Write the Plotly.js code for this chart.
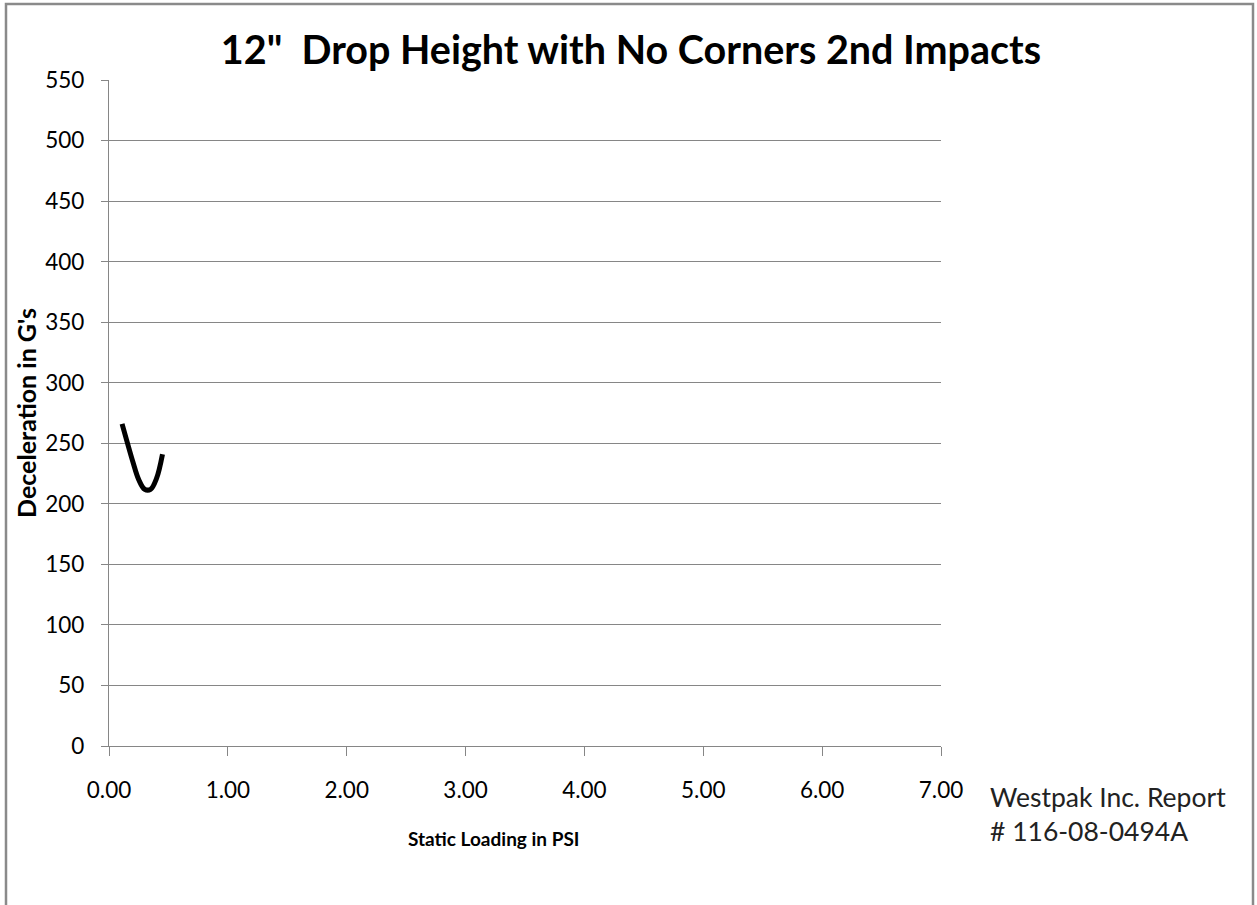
<!DOCTYPE html>
<html>
<head>
<meta charset="utf-8">
<script src="https://cdn.plot.ly/plotly-3.0.1.min.js"></script>
<style>
html,body{margin:0;padding:0;background:#fff;}
#chart{width:1257px;height:905px;}
</style>
</head>
<body>
<div id="chart"></div>
<script>
// Data
const staticLoading = [0.11, 0.15, 0.20, 0.25, 0.30, 0.35, 0.40, 0.45];
const deceleration  = [266, 252, 235, 220, 212, 212, 221, 241];
const xTickVals = [0, 1, 2, 3, 4, 5, 6, 7];
const xTickText = ["0.00", "1.00", "2.00", "3.00", "4.00", "5.00", "6.00", "7.00"];
const yTickVals = [0, 50, 100, 150, 200, 250, 300, 350, 400, 450, 500, 550];
const chartTitle = '12"  Drop Height with No Corners 2nd Impacts';
const xTitle = "Static Loading in PSI";
const yTitle = "Deceleration in G's";
const noteText = "Westpak Inc. Report<br># 116-08-0494A";

const FONT = "Lato, 'Open Sans', sans-serif";

const trace = {
  x: staticLoading,
  y: deceleration,
  type: 'scatter',
  mode: 'lines',
  line: {color: '#000000', width: 5, shape: 'spline', smoothing: 1},
  hoverinfo: 'x+y',
  showlegend: false
};

const layout = {
  width: 1257,
  height: 905,
  paper_bgcolor: '#ffffff',
  plot_bgcolor: '#ffffff',
  margin: {l: 109, r: 316, t: 80, b: 159},
  font: {family: FONT, color: '#000000'},
  title: {
    text: chartTitle,
    font: {family: FONT, size: 39.5, color: '#000000', weight: 'bold'},
    x: 0.502, xref: 'container', xanchor: 'center',
    y: 0.945, yref: 'container', yanchor: 'middle'
  },
  xaxis: {
    range: [0, 7],
    tickvals: xTickVals,
    ticktext: xTickText,
    showgrid: false,
    zeroline: false,
    showline: true,
    linecolor: '#868686',
    linewidth: 1.3,
    ticks: 'outside',
    ticklen: 9,
    tickcolor: '#868686',
    tickwidth: 1.3,
    ticklabelstandoff: 15,
    tickfont: {family: FONT, size: 22.5, color: '#000000'},
    fixedrange: true
  },
  yaxis: {
    range: [0, 550],
    tickvals: yTickVals,
    showgrid: true,
    gridcolor: '#868686',
    gridwidth: 1.1,
    zeroline: false,
    showline: true,
    linecolor: '#868686',
    linewidth: 1.3,
    ticks: 'outside',
    ticklen: 7,
    tickcolor: '#868686',
    tickwidth: 1.3,
    ticklabelstandoff: 12,
    tickfont: {family: FONT, size: 22.5, color: '#000000'},
    title: {text: yTitle, font: {family: FONT, size: 25, color: '#000000', weight: 'bold'}, standoff: 1},
    fixedrange: true
  },
  annotations: [{
    text: xTitle,
    xref: 'paper', yref: 'paper',
    x: 0.357, y: -0.139,
    xanchor: 'left', yanchor: 'middle',
    showarrow: false,
    font: {family: FONT, size: 19, color: '#000000', weight: 'bold'}
  }, {
    text: noteText,
    xref: 'paper', yref: 'paper',
    x: 1.0565, y: -0.05,
    xanchor: 'left', yanchor: 'top',
    align: 'left',
    showarrow: false,
    font: {family: FONT, size: 26.5, color: '#222222'}
  }],
  shapes: [{
    type: 'rect', xref: 'paper', yref: 'paper',
    x0: -0.1238, x1: 1.375, y0: -0.26, y1: 1.114,
    line: {color: '#8a8a8a', width: 2.5},
    fillcolor: 'rgba(0,0,0,0)',
    layer: 'below'
  }]
};

Plotly.newPlot('chart', [trace], layout, {displayModeBar: false});
</script>
</body>
</html>
